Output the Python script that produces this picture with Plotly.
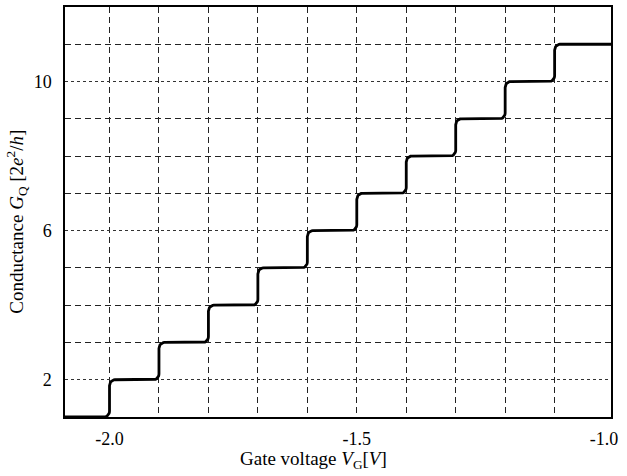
import math
import plotly.graph_objects as go

# ---- data ----
step_positions = [-2.0, -1.9, -1.8, -1.7, -1.6, -1.5, -1.4, -1.3, -1.2, -1.1]   # gate voltage of each riser
plateau_levels = [1, 2, 3, 4, 5, 6, 7, 8, 9, 10, 11]                               # conductance plateaus
x_start, x_end = -2.1, -0.98
x_tick_vals = [-2.0, -1.5, -1.0]
x_tick_text = ["-2.0", "-1.5", "-1.0"]
y_tick_vals = [2, 6, 10]
x_grid_vals = [-2.0, -1.9, -1.8, -1.7, -1.6, -1.5, -1.4, -1.3, -1.2, -1.1]
y_grid_vals = [3, 4, 5, 7, 8, 9, 11]

# build staircase path with rounded corners (quarter-ellipse corners)
corner_dx = 0.011
corner_dy = 0.16
angles = [k * math.pi / 16 for k in range(9)]
xs, ys = [x_start], [plateau_levels[0]]
for i, xp in enumerate(step_positions):
    lo, hi = plateau_levels[i], plateau_levels[i + 1]
    cx, cy = xp - corner_dx, lo + corner_dy          # lower corner centre
    for t in angles:
        xs.append(cx + corner_dx * math.sin(t))
        ys.append(cy - corner_dy * math.cos(t))
    cx, cy = xp + corner_dx, hi - corner_dy          # upper corner centre
    for t in angles:
        xs.append(cx - corner_dx * math.cos(t))
        ys.append(cy + corner_dy * math.sin(t))
xs.append(x_end)
ys.append(plateau_levels[-1])

FONT = "Liberation Serif"
xr = [-2.09, -0.986]
yr = [1, 12]

fig = go.Figure()
fig.add_trace(go.Scatter(x=xs, y=ys, mode="lines", line=dict(color="black", width=2.8),
                         showlegend=False, hoverinfo="skip"))

tick_font = dict(family=FONT, size=18, color="black")
long_dash = dict(tickmode="array", showgrid=True, gridcolor="#222", gridwidth=1, griddash="6px,4px", ticks="")
fig.update_layout(
    width=627, height=476,
    margin=dict(l=65, r=16, t=5, b=59),
    paper_bgcolor="white", plot_bgcolor="white",
    font=dict(family=FONT, size=18, color="black"),
    xaxis=dict(range=xr, tickvals=x_tick_vals, ticktext=x_tick_text, showgrid=False, zeroline=False,
               showline=True, mirror=True, linecolor="black", linewidth=1.5,
               ticks="outside", ticklen=5, tickcolor="rgba(0,0,0,0)", tickfont=tick_font,
               minor=dict(tickvals=x_grid_vals, **long_dash)),
    yaxis=dict(range=yr, tickvals=y_tick_vals, showgrid=True, gridcolor="#333", gridwidth=1, griddash="3px,3px",
               zeroline=False, showline=True, mirror=True, linecolor="black", linewidth=1.5,
               ticks="outside", ticklen=8, tickcolor="rgba(0,0,0,0)", tickfont=tick_font,
               minor=dict(tickvals=y_grid_vals, **long_dash)),
    annotations=[
        dict(text="Gate voltage <i>V</i><sub>G</sub>[<i>V</i>]", xref="paper", yref="paper",
             x=0.455, y=-0.104, xanchor="center", yanchor="middle", showarrow=False,
             font=dict(family=FONT, size=19, color="black")),
        dict(text="Conductance <i>G</i><sub>Q</sub> [2<i>e</i><sup>2</sup>/<i>h</i>]", xref="paper", yref="paper",
             x=-0.088, y=0.476, xanchor="center", yanchor="middle", textangle=-90, showarrow=False,
             font=dict(family=FONT, size=19, color="black")),
    ],
)

fig.write_html("out.html")
